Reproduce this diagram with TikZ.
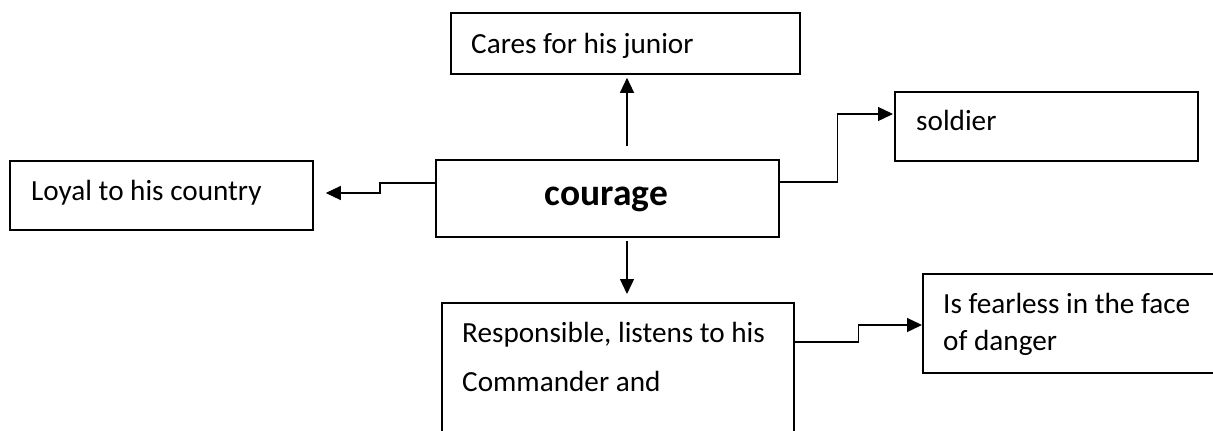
\documentclass[tikz,border=0pt]{standalone}
\usepackage{fontspec}
\setmainfont{Carlito}
\usetikzlibrary{arrows.meta,calc}
\begin{document}
\begin{tikzpicture}[x=1pt,y=-1pt,
  box/.style={draw=black, line width=1.8pt, inner sep=0pt, anchor=north west},
  txt/.style={inner sep=0pt, anchor=base west, font=\fontsize{29.2}{35}\selectfont},
  link/.style={line width=1.3pt, -{Triangle[length=15pt,width=14pt]}}]
\useasboundingbox (0,0) rectangle (1213,431);
\clip (0,0) rectangle (1213,431);

% boxes
\node[box, minimum width=349pt, minimum height=61pt] (junior) at (450,12) {};
\node[box, minimum width=343pt, minimum height=77pt] (courage) at (435,159) {};
\node[box, minimum width=303pt, minimum height=69pt] (loyal) at (9,160) {};
\node[box, minimum width=303pt, minimum height=69pt] (soldier) at (894,91) {};
\node[box, minimum width=330pt, minimum height=99pt] (fearless) at (922,273) {};
\node[box, minimum width=352pt, minimum height=170pt] (resp) at (441,302) {};

% texts
\node[txt] (tjunior) at (471,53) {Cares for his junior};
\node[inner sep=0pt, anchor=base, font=\bfseries\fontsize{37.5}{44}\selectfont] (tcourage) at (606.5,205) {courage};
\node[txt] (tloyal) at (31,200) {Loyal to his country};
\node[txt] (tsoldier) at (916,130) {soldier};
\node[txt] (tfear1) at (943,313) {Is fearless in the face};
\node[txt] (tfear2) at (943,350) {of danger};
\node[txt] (tresp1) at (462,342) {Responsible, listens to his};
\node[txt] (tresp2) at (462,391) {Commander and};

% connectors
\coordinate (upfrom) at (627,146);
\draw[link, shorten >=3pt] (upfrom) -- (upfrom |- junior.south);
\coordinate (downfrom) at (627,241);
\draw[link, shorten >=8pt] (downfrom) -- (downfrom |- resp.north);
\draw[link, shorten >=12pt] ($(courage.north west)+(0,24)$) -- ++(-55,0) |- (loyal.east |- 0,193);
\draw[link, shorten >=1pt] ($(courage.north east)+(0,23)$) -- ++(58,0) |- (soldier.west |- 0,114);
\draw[link] ($(resp.north east)+(0,40)$) -- ++(64,0) |- (fearless.west |- 0,325);
\end{tikzpicture}
\end{document}
